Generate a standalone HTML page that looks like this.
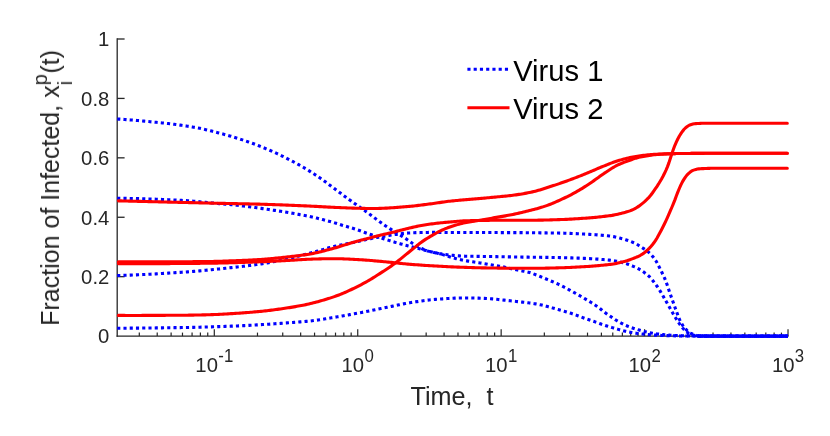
<!DOCTYPE html>
<html>
<head>
<meta charset="utf-8">
<title>Fraction of Infected vs Time</title>
<style>
html, body { margin: 0; padding: 0; background: #ffffff; }
body { width: 830px; height: 436px; overflow: hidden; font-family: "Liberation Sans", sans-serif; }
svg { display: block; }
</style>
</head>
<body>
<svg width="830" height="436" viewBox="0 0 830 436">
<rect width="830" height="436" fill="#fff"/>
<g stroke="#262626" stroke-width="1.3" fill="none" stroke-linecap="butt">
<path d="M117.2 38.35 V336.75"/>
<path d="M116.55 336.1 H788.65"/>
<path d="M117.2 276.68 h7.4"/>
<path d="M117.2 217.26 h7.4"/>
<path d="M117.2 157.84 h7.4"/>
<path d="M117.2 98.42 h7.4"/>
<path d="M117.2 39.00 h7.4"/>
</g>
<g stroke="#262626" stroke-width="1.2" fill="none">
<path d="M139.30 336.1 v-3.5"/>
<path d="M157.22 336.1 v-3.5"/>
<path d="M171.12 336.1 v-3.5"/>
<path d="M182.48 336.1 v-3.5"/>
<path d="M192.08 336.1 v-3.5"/>
<path d="M200.40 336.1 v-3.5"/>
<path d="M207.74 336.1 v-3.5"/>
<path d="M214.30 336.1 v-6.9"/>
<path d="M257.48 336.1 v-3.5"/>
<path d="M282.73 336.1 v-3.5"/>
<path d="M300.65 336.1 v-3.5"/>
<path d="M314.55 336.1 v-3.5"/>
<path d="M325.91 336.1 v-3.5"/>
<path d="M335.51 336.1 v-3.5"/>
<path d="M343.83 336.1 v-3.5"/>
<path d="M351.17 336.1 v-3.5"/>
<path d="M357.73 336.1 v-6.9"/>
<path d="M400.91 336.1 v-3.5"/>
<path d="M426.16 336.1 v-3.5"/>
<path d="M444.08 336.1 v-3.5"/>
<path d="M457.98 336.1 v-3.5"/>
<path d="M469.34 336.1 v-3.5"/>
<path d="M478.94 336.1 v-3.5"/>
<path d="M487.26 336.1 v-3.5"/>
<path d="M494.60 336.1 v-3.5"/>
<path d="M501.16 336.1 v-6.9"/>
<path d="M544.34 336.1 v-3.5"/>
<path d="M569.59 336.1 v-3.5"/>
<path d="M587.51 336.1 v-3.5"/>
<path d="M601.41 336.1 v-3.5"/>
<path d="M612.77 336.1 v-3.5"/>
<path d="M622.37 336.1 v-3.5"/>
<path d="M630.69 336.1 v-3.5"/>
<path d="M638.03 336.1 v-3.5"/>
<path d="M644.59 336.1 v-6.9"/>
<path d="M687.77 336.1 v-3.5"/>
<path d="M713.02 336.1 v-3.5"/>
<path d="M730.94 336.1 v-3.5"/>
<path d="M744.84 336.1 v-3.5"/>
<path d="M756.20 336.1 v-3.5"/>
<path d="M765.80 336.1 v-3.5"/>
<path d="M774.12 336.1 v-3.5"/>
<path d="M781.46 336.1 v-3.5"/>
<path d="M788.02 336.1 v-6.9"/>
</g>
<g font-family="Liberation Sans, sans-serif" font-size="20.3" fill="#262626" style="filter:grayscale(1)">
<text transform="translate(109.3 343.45) scale(1 1.04)" text-anchor="end">0</text>
<text transform="translate(109.3 284.03) scale(1 1.04)" text-anchor="end">0.2</text>
<text transform="translate(109.3 224.61) scale(1 1.04)" text-anchor="end">0.4</text>
<text transform="translate(109.3 165.19) scale(1 1.04)" text-anchor="end">0.6</text>
<text transform="translate(109.3 105.77) scale(1 1.04)" text-anchor="end">0.8</text>
<text transform="translate(109.3 46.35) scale(1 1.04)" text-anchor="end">1</text>
<text transform="translate(214.30 371.7) scale(1 1.04)" text-anchor="middle">10<tspan font-size="16.8" dy="-9.6" dx="0.4">-1</tspan></text>
<text transform="translate(357.73 371.7) scale(1 1.04)" text-anchor="middle">10<tspan font-size="16.8" dy="-9.6" dx="0.4">0</tspan></text>
<text transform="translate(501.16 371.7) scale(1 1.04)" text-anchor="middle">10<tspan font-size="16.8" dy="-9.6" dx="0.4">1</tspan></text>
<text transform="translate(644.59 371.7) scale(1 1.04)" text-anchor="middle">10<tspan font-size="16.8" dy="-9.6" dx="0.4">2</tspan></text>
<text transform="translate(788.02 371.7) scale(1 1.04)" text-anchor="middle">10<tspan font-size="16.8" dy="-9.6" dx="0.4">3</tspan></text>
</g>
<g font-family="Liberation Sans, sans-serif" font-size="25" fill="#262626" style="filter:grayscale(1)">
<text x="452.1" y="404.5" text-anchor="middle" font-size="25.2" xml:space="preserve">Time,  t</text>
<text transform="translate(59.0 325.8) rotate(-90)" xml:space="preserve">Fraction of Infected, x<tspan font-size="20" dy="-12.4" dx="0">p</tspan><tspan font-size="20" dy="25.3" dx="-11.1">i</tspan><tspan dy="-12.9" dx="7.4">(t)</tspan></text>
</g>
<g fill="none" stroke-width="3.1" stroke-linejoin="round">
<path d="M117.20 119.00 L118.70 119.08 L120.20 119.17 L121.70 119.27 L123.20 119.37 L124.70 119.47 L126.20 119.58 L127.70 119.69 L129.20 119.81 L130.70 119.93 L132.20 120.05 L133.70 120.18 L135.20 120.31 L136.70 120.44 L138.20 120.58 L139.70 120.71 L141.20 120.85 L142.70 120.99 L144.20 121.14 L145.70 121.28 L147.20 121.43 L148.70 121.58 L150.20 121.72 L151.70 121.87 L153.20 122.02 L154.70 122.17 L156.20 122.32 L157.70 122.47 L159.20 122.62 L160.70 122.77 L162.20 122.92 L163.70 123.08 L165.20 123.24 L166.70 123.41 L168.20 123.58 L169.70 123.76 L171.20 123.94 L172.70 124.12 L174.20 124.31 L175.70 124.50 L177.20 124.70 L178.70 124.90 L180.20 125.11 L181.70 125.32 L183.20 125.54 L184.70 125.76 L186.20 125.98 L187.70 126.21 L189.20 126.44 L190.70 126.68 L192.20 126.92 L193.70 127.17 L195.20 127.43 L196.70 127.71 L198.20 128.00 L199.70 128.30 L201.20 128.62 L202.70 128.95 L204.20 129.29 L205.70 129.64 L207.20 129.99 L208.70 130.36 L210.20 130.73 L211.70 131.11 L213.20 131.49 L214.70 131.88 L216.20 132.27 L217.70 132.66 L219.20 133.05 L220.70 133.45 L222.20 133.84 L223.70 134.24 L225.20 134.64 L226.70 135.06 L228.20 135.48 L229.70 135.91 L231.20 136.35 L232.70 136.80 L234.20 137.26 L235.70 137.72 L237.20 138.19 L238.70 138.67 L240.20 139.16 L241.70 139.65 L243.20 140.14 L244.70 140.65 L246.20 141.15 L247.70 141.67 L249.20 142.19 L250.70 142.72 L252.20 143.26 L253.70 143.81 L255.20 144.38 L256.70 144.96 L258.20 145.54 L259.70 146.14 L261.20 146.74 L262.70 147.35 L264.20 147.97 L265.70 148.60 L267.20 149.23 L268.70 149.87 L270.20 150.52 L271.70 151.17 L273.20 151.83 L274.70 152.50 L276.20 153.18 L277.70 153.88 L279.20 154.59 L280.70 155.31 L282.20 156.04 L283.70 156.78 L285.20 157.54 L286.70 158.30 L288.20 159.07 L289.70 159.85 L291.20 160.64 L292.70 161.43 L294.20 162.24 L295.70 163.05 L297.20 163.86 L298.70 164.69 L300.20 165.52 L301.70 166.38 L303.20 167.25 L304.70 168.14 L306.20 169.04 L307.70 169.96 L309.20 170.89 L310.70 171.84 L312.20 172.79 L313.70 173.76 L315.20 174.74 L316.70 175.73 L318.20 176.74 L319.70 177.77 L321.20 178.83 L322.70 179.90 L324.20 180.98 L325.70 182.08 L327.20 183.19 L328.70 184.31 L330.20 185.43 L331.70 186.55 L333.20 187.66 L334.70 188.78 L336.20 189.89 L337.70 191.02 L339.20 192.16 L340.70 193.30 L342.20 194.43 L343.70 195.55 L345.20 196.66 L346.70 197.76 L348.20 198.85 L349.70 199.94 L351.20 201.02 L352.70 202.10 L354.20 203.18 L355.70 204.26 L357.20 205.32 L358.70 206.38 L360.20 207.44 L361.70 208.49 L363.20 209.54 L364.70 210.60 L366.20 211.67 L367.70 212.75 L369.20 213.85 L370.70 214.97 L372.20 216.11 L373.70 217.25 L375.20 218.39 L376.70 219.52 L378.20 220.63 L379.70 221.73 L381.20 222.79 L382.70 223.84 L384.20 224.88 L385.70 225.91 L387.20 226.92 L388.70 227.92 L390.20 228.91 L391.70 229.89 L393.20 230.86 L394.70 231.82 L396.20 232.75 L397.70 233.67 L399.20 234.58 L400.70 235.49 L402.20 236.40 L403.70 237.33 L405.20 238.28 L406.70 239.26 L408.20 240.30 L409.70 241.36 L411.20 242.42 L412.70 243.45 L414.20 244.41 L415.70 245.28 L417.20 246.13 L418.70 246.95 L420.20 247.75 L421.70 248.52 L423.20 249.23 L424.70 249.88 L426.20 250.45 L427.70 250.94 L429.20 251.37 L430.70 251.77 L432.20 252.15 L433.70 252.51 L435.20 252.84 L436.70 253.15 L438.20 253.43 L439.70 253.68 L441.20 253.90 L442.70 254.12 L444.20 254.34 L445.70 254.56 L447.20 254.76 L448.70 254.95 L450.20 255.12 L451.70 255.28 L453.20 255.41 L454.70 255.53 L456.20 255.65 L457.70 255.77 L459.20 255.88 L460.70 255.98 L462.20 256.07 L463.70 256.14 L465.20 256.19 L466.70 256.22 L468.20 256.25 L469.70 256.27 L471.20 256.30 L472.70 256.32 L474.20 256.34 L475.70 256.36 L477.20 256.38 L478.70 256.39 L480.20 256.41 L481.70 256.43 L483.20 256.45 L484.70 256.46 L486.20 256.48 L487.70 256.50 L489.20 256.52 L490.70 256.55 L492.20 256.57 L493.70 256.59 L495.20 256.62 L496.70 256.65 L498.20 256.68 L499.70 256.71 L501.20 256.74 L502.70 256.77 L504.20 256.79 L505.70 256.82 L507.20 256.85 L508.70 256.88 L510.20 256.90 L511.70 256.93 L513.20 256.95 L514.70 256.98 L516.20 257.00 L517.70 257.02 L519.20 257.04 L520.70 257.06 L522.20 257.08 L523.70 257.11 L525.20 257.12 L526.70 257.14 L528.20 257.16 L529.70 257.18 L531.20 257.20 L532.70 257.22 L534.20 257.24 L535.70 257.26 L537.20 257.28 L538.70 257.29 L540.20 257.31 L541.70 257.33 L543.20 257.35 L544.70 257.37 L546.20 257.39 L547.70 257.41 L549.20 257.43 L550.70 257.45 L552.20 257.47 L553.70 257.50 L555.20 257.52 L556.70 257.54 L558.20 257.57 L559.70 257.59 L561.20 257.62 L562.70 257.65 L564.20 257.69 L565.70 257.72 L567.20 257.77 L568.70 257.81 L570.20 257.86 L571.70 257.91 L573.20 257.96 L574.70 258.01 L576.20 258.06 L577.70 258.12 L579.20 258.17 L580.70 258.23 L582.20 258.29 L583.70 258.34 L585.20 258.40 L586.70 258.46 L588.20 258.53 L589.70 258.60 L591.20 258.69 L592.70 258.78 L594.20 258.87 L595.70 258.97 L597.20 259.08 L598.70 259.19 L600.20 259.31 L601.70 259.43 L603.20 259.56 L604.70 259.69 L606.20 259.82 L607.70 259.96 L609.20 260.10 L610.70 260.24 L612.20 260.43 L613.70 260.66 L615.20 260.94 L616.70 261.25 L618.20 261.59 L619.70 261.95 L621.20 262.31 L622.70 262.68 L624.20 263.06 L625.70 263.51 L627.20 264.00 L628.70 264.53 L630.20 265.10 L631.70 265.69 L633.20 266.31 L634.70 266.94 L636.20 267.60 L637.70 268.34 L639.20 269.16 L640.70 270.06 L642.20 271.04 L643.70 272.07 L645.20 273.17 L646.70 274.32 L648.20 275.53 L649.70 276.98 L651.20 278.66 L652.70 280.50 L654.20 282.44 L655.70 284.39 L657.20 286.48 L658.70 288.72 L660.20 291.08 L661.70 293.56 L663.20 296.19 L664.70 298.87 L666.20 301.50 L667.70 304.15 L669.20 306.79 L670.70 309.43 L672.20 312.09 L673.70 314.74 L675.20 317.27 L676.70 319.68 L678.20 322.00 L679.70 324.16 L681.20 326.15 L682.70 328.06 L684.20 329.78 L685.70 331.15 L687.20 332.34 L688.70 333.36 L690.20 334.10 L691.70 334.57 L693.20 335.03 L694.70 335.43 L696.20 335.73 L697.70 335.89 L699.20 335.93 L700.70 335.96 L702.20 336.00 L703.70 336.03 L705.20 336.05 L706.70 336.08 L708.20 336.09 L709.70 336.10 L711.20 336.10 L712.70 336.10 L714.20 336.11 L715.70 336.11 L717.20 336.11 L718.70 336.11 L720.20 336.12 L721.70 336.12 L723.20 336.12 L724.70 336.13 L726.20 336.13 L727.70 336.13 L729.20 336.14 L730.70 336.14 L732.20 336.14 L733.70 336.14 L735.20 336.15 L736.70 336.15 L738.20 336.15 L739.70 336.16 L741.20 336.16 L742.70 336.16 L744.20 336.17 L745.70 336.17 L747.20 336.17 L748.70 336.17 L750.20 336.17 L751.70 336.18 L753.20 336.18 L754.70 336.18 L756.20 336.18 L757.70 336.18 L759.20 336.18 L760.70 336.18 L762.20 336.18 L763.70 336.18 L765.20 336.18 L766.70 336.18 L768.20 336.17 L769.70 336.17 L771.20 336.17 L772.70 336.16 L774.20 336.16 L775.70 336.16 L777.20 336.15 L778.70 336.15 L780.20 336.14 L781.70 336.13 L783.20 336.13 L784.70 336.12 L786.20 336.11 L787.70 336.10 L787.90 336.10" stroke="#0000ff" stroke-dasharray="3.125 3.125"/>
<path d="M117.20 198.30 L118.70 198.31 L120.20 198.32 L121.70 198.33 L123.20 198.35 L124.70 198.37 L126.20 198.38 L127.70 198.41 L129.20 198.43 L130.70 198.46 L132.20 198.49 L133.70 198.52 L135.20 198.55 L136.70 198.58 L138.20 198.62 L139.70 198.66 L141.20 198.70 L142.70 198.74 L144.20 198.79 L145.70 198.83 L147.20 198.88 L148.70 198.93 L150.20 198.98 L151.70 199.03 L153.20 199.09 L154.70 199.15 L156.20 199.20 L157.70 199.26 L159.20 199.32 L160.70 199.39 L162.20 199.45 L163.70 199.52 L165.20 199.58 L166.70 199.65 L168.20 199.72 L169.70 199.79 L171.20 199.87 L172.70 199.94 L174.20 200.02 L175.70 200.09 L177.20 200.17 L178.70 200.25 L180.20 200.33 L181.70 200.41 L183.20 200.49 L184.70 200.57 L186.20 200.66 L187.70 200.75 L189.20 200.86 L190.70 200.98 L192.20 201.10 L193.70 201.23 L195.20 201.37 L196.70 201.51 L198.20 201.65 L199.70 201.80 L201.20 201.95 L202.70 202.10 L204.20 202.25 L205.70 202.40 L207.20 202.54 L208.70 202.68 L210.20 202.82 L211.70 202.95 L213.20 203.08 L214.70 203.21 L216.20 203.34 L217.70 203.47 L219.20 203.60 L220.70 203.73 L222.20 203.87 L223.70 204.00 L225.20 204.13 L226.70 204.27 L228.20 204.40 L229.70 204.55 L231.20 204.69 L232.70 204.84 L234.20 204.99 L235.70 205.14 L237.20 205.30 L238.70 205.47 L240.20 205.64 L241.70 205.82 L243.20 206.00 L244.70 206.19 L246.20 206.38 L247.70 206.57 L249.20 206.77 L250.70 206.97 L252.20 207.17 L253.70 207.38 L255.20 207.58 L256.70 207.79 L258.20 208.00 L259.70 208.20 L261.20 208.41 L262.70 208.62 L264.20 208.83 L265.70 209.05 L267.20 209.27 L268.70 209.49 L270.20 209.71 L271.70 209.94 L273.20 210.17 L274.70 210.40 L276.20 210.63 L277.70 210.86 L279.20 211.10 L280.70 211.34 L282.20 211.58 L283.70 211.82 L285.20 212.07 L286.70 212.31 L288.20 212.56 L289.70 212.82 L291.20 213.07 L292.70 213.33 L294.20 213.59 L295.70 213.86 L297.20 214.13 L298.70 214.40 L300.20 214.68 L301.70 214.96 L303.20 215.25 L304.70 215.54 L306.20 215.83 L307.70 216.13 L309.20 216.44 L310.70 216.75 L312.20 217.07 L313.70 217.40 L315.20 217.74 L316.70 218.09 L318.20 218.44 L319.70 218.81 L321.20 219.19 L322.70 219.57 L324.20 219.95 L325.70 220.35 L327.20 220.74 L328.70 221.15 L330.20 221.55 L331.70 221.98 L333.20 222.41 L334.70 222.86 L336.20 223.32 L337.70 223.79 L339.20 224.25 L340.70 224.72 L342.20 225.18 L343.70 225.63 L345.20 226.07 L346.70 226.52 L348.20 226.96 L349.70 227.40 L351.20 227.85 L352.70 228.31 L354.20 228.78 L355.70 229.26 L357.20 229.77 L358.70 230.29 L360.20 230.83 L361.70 231.38 L363.20 231.92 L364.70 232.47 L366.20 233.01 L367.70 233.53 L369.20 234.05 L370.70 234.56 L372.20 235.06 L373.70 235.57 L375.20 236.07 L376.70 236.56 L378.20 237.06 L379.70 237.54 L381.20 238.02 L382.70 238.50 L384.20 238.98 L385.70 239.45 L387.20 239.91 L388.70 240.37 L390.20 240.83 L391.70 241.28 L393.20 241.73 L394.70 242.17 L396.20 242.62 L397.70 243.05 L399.20 243.49 L400.70 243.92 L402.20 244.34 L403.70 244.76 L405.20 245.17 L406.70 245.56 L408.20 245.95 L409.70 246.33 L411.20 246.70 L412.70 247.07 L414.20 247.45 L415.70 247.83 L417.20 248.22 L418.70 248.61 L420.20 249.00 L421.70 249.40 L423.20 249.79 L424.70 250.18 L426.20 250.57 L427.70 250.95 L429.20 251.32 L430.70 251.67 L432.20 252.02 L433.70 252.36 L435.20 252.70 L436.70 253.05 L438.20 253.41 L439.70 253.79 L441.20 254.19 L442.70 254.64 L444.20 255.11 L445.70 255.60 L447.20 256.09 L448.70 256.59 L450.20 257.06 L451.70 257.51 L453.20 257.93 L454.70 258.31 L456.20 258.69 L457.70 259.06 L459.20 259.41 L460.70 259.75 L462.20 260.07 L463.70 260.37 L465.20 260.65 L466.70 260.90 L468.20 261.14 L469.70 261.37 L471.20 261.58 L472.70 261.79 L474.20 262.00 L475.70 262.22 L477.20 262.44 L478.70 262.68 L480.20 262.93 L481.70 263.18 L483.20 263.44 L484.70 263.69 L486.20 263.95 L487.70 264.22 L489.20 264.48 L490.70 264.73 L492.20 264.99 L493.70 265.24 L495.20 265.49 L496.70 265.75 L498.20 266.00 L499.70 266.27 L501.20 266.54 L502.70 266.82 L504.20 267.12 L505.70 267.44 L507.20 267.77 L508.70 268.11 L510.20 268.46 L511.70 268.81 L513.20 269.15 L514.70 269.48 L516.20 269.80 L517.70 270.10 L519.20 270.38 L520.70 270.65 L522.20 270.92 L523.70 271.20 L525.20 271.49 L526.70 271.80 L528.20 272.15 L529.70 272.56 L531.20 273.05 L532.70 273.59 L534.20 274.16 L535.70 274.73 L537.20 275.30 L538.70 275.90 L540.20 276.50 L541.70 277.12 L543.20 277.74 L544.70 278.38 L546.20 279.01 L547.70 279.64 L549.20 280.28 L550.70 280.91 L552.20 281.55 L553.70 282.20 L555.20 282.86 L556.70 283.53 L558.20 284.21 L559.70 284.91 L561.20 285.63 L562.70 286.37 L564.20 287.14 L565.70 287.92 L567.20 288.71 L568.70 289.52 L570.20 290.33 L571.70 291.15 L573.20 291.97 L574.70 292.81 L576.20 293.65 L577.70 294.50 L579.20 295.36 L580.70 296.24 L582.20 297.12 L583.70 298.00 L585.20 298.90 L586.70 299.80 L588.20 300.70 L589.70 301.61 L591.20 302.53 L592.70 303.48 L594.20 304.44 L595.70 305.43 L597.20 306.45 L598.70 307.53 L600.20 308.70 L601.70 309.93 L603.20 311.16 L604.70 312.33 L606.20 313.43 L607.70 314.50 L609.20 315.54 L610.70 316.58 L612.20 317.61 L613.70 318.63 L615.20 319.60 L616.70 320.50 L618.20 321.39 L619.70 322.26 L621.20 323.11 L622.70 323.91 L624.20 324.67 L625.70 325.36 L627.20 325.98 L628.70 326.57 L630.20 327.13 L631.70 327.67 L633.20 328.18 L634.70 328.68 L636.20 329.16 L637.70 329.62 L639.20 330.08 L640.70 330.55 L642.20 330.99 L643.70 331.39 L645.20 331.73 L646.70 332.05 L648.20 332.37 L649.70 332.67 L651.20 332.96 L652.70 333.23 L654.20 333.49 L655.70 333.72 L657.20 333.92 L658.70 334.11 L660.20 334.29 L661.70 334.46 L663.20 334.63 L664.70 334.78 L666.20 334.93 L667.70 335.05 L669.20 335.16 L670.70 335.25 L672.20 335.33 L673.70 335.41 L675.20 335.49 L676.70 335.57 L678.20 335.64 L679.70 335.70 L681.20 335.75 L682.70 335.79 L684.20 335.83 L685.70 335.86 L687.20 335.90 L688.70 335.93 L690.20 335.96 L691.70 335.99 L693.20 336.02 L694.70 336.04 L696.20 336.06 L697.70 336.08 L699.20 336.09 L700.70 336.10 L702.20 336.11 L703.70 336.12 L705.20 336.13 L706.70 336.13 L708.20 336.14 L709.70 336.15 L711.20 336.15 L712.70 336.16 L714.20 336.17 L715.70 336.17 L717.20 336.18 L718.70 336.18 L720.20 336.19 L721.70 336.19 L723.20 336.20 L724.70 336.20 L726.20 336.21 L727.70 336.21 L729.20 336.21 L730.70 336.22 L732.20 336.22 L733.70 336.22 L735.20 336.22 L736.70 336.23 L738.20 336.23 L739.70 336.23 L741.20 336.23 L742.70 336.23 L744.20 336.23 L745.70 336.23 L747.20 336.23 L748.70 336.23 L750.20 336.23 L751.70 336.23 L753.20 336.23 L754.70 336.23 L756.20 336.23 L757.70 336.22 L759.20 336.22 L760.70 336.22 L762.20 336.21 L763.70 336.21 L765.20 336.21 L766.70 336.20 L768.20 336.20 L769.70 336.19 L771.20 336.19 L772.70 336.18 L774.20 336.17 L775.70 336.17 L777.20 336.16 L778.70 336.15 L780.20 336.15 L781.70 336.14 L783.20 336.13 L784.70 336.12 L786.20 336.11 L787.70 336.10 L787.90 336.10" stroke="#0000ff" stroke-dasharray="3.125 3.125"/>
<path d="M117.20 275.50 L118.70 275.47 L120.20 275.43 L121.70 275.39 L123.20 275.35 L124.70 275.30 L126.20 275.25 L127.70 275.20 L129.20 275.15 L130.70 275.09 L132.20 275.04 L133.70 274.98 L135.20 274.91 L136.70 274.85 L138.20 274.78 L139.70 274.71 L141.20 274.64 L142.70 274.57 L144.20 274.50 L145.70 274.42 L147.20 274.34 L148.70 274.26 L150.20 274.18 L151.70 274.10 L153.20 274.02 L154.70 273.93 L156.20 273.85 L157.70 273.76 L159.20 273.67 L160.70 273.58 L162.20 273.49 L163.70 273.40 L165.20 273.30 L166.70 273.21 L168.20 273.11 L169.70 273.02 L171.20 272.92 L172.70 272.82 L174.20 272.73 L175.70 272.63 L177.20 272.53 L178.70 272.43 L180.20 272.33 L181.70 272.23 L183.20 272.13 L184.70 272.03 L186.20 271.93 L187.70 271.83 L189.20 271.72 L190.70 271.61 L192.20 271.49 L193.70 271.37 L195.20 271.25 L196.70 271.12 L198.20 270.99 L199.70 270.86 L201.20 270.72 L202.70 270.58 L204.20 270.44 L205.70 270.30 L207.20 270.15 L208.70 270.01 L210.20 269.86 L211.70 269.71 L213.20 269.55 L214.70 269.40 L216.20 269.24 L217.70 269.08 L219.20 268.93 L220.70 268.77 L222.20 268.61 L223.70 268.45 L225.20 268.29 L226.70 268.12 L228.20 267.96 L229.70 267.80 L231.20 267.64 L232.70 267.48 L234.20 267.32 L235.70 267.16 L237.20 266.99 L238.70 266.83 L240.20 266.66 L241.70 266.48 L243.20 266.31 L244.70 266.13 L246.20 265.94 L247.70 265.75 L249.20 265.56 L250.70 265.36 L252.20 265.16 L253.70 264.96 L255.20 264.75 L256.70 264.54 L258.20 264.32 L259.70 264.10 L261.20 263.88 L262.70 263.64 L264.20 263.40 L265.70 263.15 L267.20 262.88 L268.70 262.61 L270.20 262.33 L271.70 262.05 L273.20 261.75 L274.70 261.45 L276.20 261.15 L277.70 260.84 L279.20 260.53 L280.70 260.21 L282.20 259.89 L283.70 259.57 L285.20 259.24 L286.70 258.92 L288.20 258.58 L289.70 258.24 L291.20 257.89 L292.70 257.54 L294.20 257.18 L295.70 256.82 L297.20 256.45 L298.70 256.08 L300.20 255.70 L301.70 255.32 L303.20 254.93 L304.70 254.54 L306.20 254.15 L307.70 253.76 L309.20 253.36 L310.70 252.96 L312.20 252.56 L313.70 252.16 L315.20 251.76 L316.70 251.35 L318.20 250.95 L319.70 250.52 L321.20 250.08 L322.70 249.62 L324.20 249.16 L325.70 248.70 L327.20 248.26 L328.70 247.84 L330.20 247.45 L331.70 247.08 L333.20 246.73 L334.70 246.38 L336.20 246.04 L337.70 245.71 L339.20 245.38 L340.70 245.06 L342.20 244.74 L343.70 244.43 L345.20 244.11 L346.70 243.80 L348.20 243.49 L349.70 243.18 L351.20 242.86 L352.70 242.54 L354.20 242.22 L355.70 241.89 L357.20 241.56 L358.70 241.22 L360.20 240.89 L361.70 240.55 L363.20 240.22 L364.70 239.89 L366.20 239.56 L367.70 239.24 L369.20 238.93 L370.70 238.61 L372.20 238.30 L373.70 237.99 L375.20 237.69 L376.70 237.39 L378.20 237.11 L379.70 236.84 L381.20 236.58 L382.70 236.33 L384.20 236.10 L385.70 235.86 L387.20 235.64 L388.70 235.42 L390.20 235.20 L391.70 234.99 L393.20 234.79 L394.70 234.57 L396.20 234.36 L397.70 234.14 L399.20 233.92 L400.70 233.72 L402.20 233.53 L403.70 233.37 L405.20 233.24 L406.70 233.13 L408.20 233.03 L409.70 232.94 L411.20 232.86 L412.70 232.78 L414.20 232.72 L415.70 232.67 L417.20 232.62 L418.70 232.59 L420.20 232.57 L421.70 232.54 L423.20 232.51 L424.70 232.48 L426.20 232.46 L427.70 232.44 L429.20 232.42 L430.70 232.40 L432.20 232.40 L433.70 232.40 L435.20 232.41 L436.70 232.42 L438.20 232.43 L439.70 232.44 L441.20 232.45 L442.70 232.47 L444.20 232.48 L445.70 232.49 L447.20 232.50 L448.70 232.50 L450.20 232.51 L451.70 232.51 L453.20 232.52 L454.70 232.52 L456.20 232.53 L457.70 232.53 L459.20 232.53 L460.70 232.54 L462.20 232.54 L463.70 232.54 L465.20 232.54 L466.70 232.54 L468.20 232.55 L469.70 232.55 L471.20 232.55 L472.70 232.55 L474.20 232.55 L475.70 232.55 L477.20 232.56 L478.70 232.56 L480.20 232.56 L481.70 232.56 L483.20 232.56 L484.70 232.56 L486.20 232.56 L487.70 232.56 L489.20 232.56 L490.70 232.57 L492.20 232.57 L493.70 232.57 L495.20 232.57 L496.70 232.57 L498.20 232.57 L499.70 232.58 L501.20 232.58 L502.70 232.58 L504.20 232.59 L505.70 232.59 L507.20 232.59 L508.70 232.60 L510.20 232.60 L511.70 232.61 L513.20 232.61 L514.70 232.62 L516.20 232.63 L517.70 232.63 L519.20 232.64 L520.70 232.65 L522.20 232.66 L523.70 232.68 L525.20 232.69 L526.70 232.70 L528.20 232.71 L529.70 232.73 L531.20 232.74 L532.70 232.76 L534.20 232.77 L535.70 232.79 L537.20 232.81 L538.70 232.82 L540.20 232.84 L541.70 232.86 L543.20 232.88 L544.70 232.90 L546.20 232.91 L547.70 232.93 L549.20 232.95 L550.70 232.97 L552.20 232.99 L553.70 233.01 L555.20 233.03 L556.70 233.05 L558.20 233.07 L559.70 233.09 L561.20 233.12 L562.70 233.15 L564.20 233.18 L565.70 233.23 L567.20 233.28 L568.70 233.33 L570.20 233.39 L571.70 233.46 L573.20 233.52 L574.70 233.59 L576.20 233.66 L577.70 233.74 L579.20 233.81 L580.70 233.88 L582.20 233.96 L583.70 234.03 L585.20 234.10 L586.70 234.17 L588.20 234.25 L589.70 234.34 L591.20 234.43 L592.70 234.53 L594.20 234.63 L595.70 234.75 L597.20 234.86 L598.70 234.99 L600.20 235.11 L601.70 235.25 L603.20 235.38 L604.70 235.53 L606.20 235.67 L607.70 235.83 L609.20 235.98 L610.70 236.15 L612.20 236.36 L613.70 236.63 L615.20 236.95 L616.70 237.31 L618.20 237.69 L619.70 238.09 L621.20 238.50 L622.70 238.90 L624.20 239.31 L625.70 239.75 L627.20 240.23 L628.70 240.74 L630.20 241.29 L631.70 241.87 L633.20 242.48 L634.70 243.13 L636.20 243.85 L637.70 244.72 L639.20 245.70 L640.70 246.71 L642.20 247.68 L643.70 248.65 L645.20 249.64 L646.70 250.69 L648.20 251.84 L649.70 253.17 L651.20 254.70 L652.70 256.43 L654.20 258.32 L655.70 260.43 L657.20 263.04 L658.70 265.98 L660.20 269.00 L661.70 271.98 L663.20 275.08 L664.70 278.42 L666.20 282.17 L667.70 286.47 L669.20 290.98 L670.70 295.35 L672.20 299.61 L673.70 303.83 L675.20 307.96 L676.70 312.10 L678.20 316.24 L679.70 319.95 L681.20 322.89 L682.70 325.41 L684.20 327.53 L685.70 329.21 L687.20 330.71 L688.70 332.06 L690.20 333.06 L691.70 333.74 L693.20 334.40 L694.70 334.99 L696.20 335.44 L697.70 335.68 L699.20 335.75 L700.70 335.82 L702.20 335.89 L703.70 335.94 L705.20 336.00 L706.70 336.04 L708.20 336.08 L709.70 336.10 L711.20 336.10 L712.70 336.11 L714.20 336.11 L715.70 336.12 L717.20 336.12 L718.70 336.13 L720.20 336.13 L721.70 336.14 L723.20 336.15 L724.70 336.15 L726.20 336.16 L727.70 336.17 L729.20 336.17 L730.70 336.18 L732.20 336.18 L733.70 336.19 L735.20 336.20 L736.70 336.20 L738.20 336.21 L739.70 336.22 L741.20 336.22 L742.70 336.23 L744.20 336.23 L745.70 336.23 L747.20 336.24 L748.70 336.24 L750.20 336.25 L751.70 336.25 L753.20 336.25 L754.70 336.25 L756.20 336.25 L757.70 336.26 L759.20 336.26 L760.70 336.26 L762.20 336.25 L763.70 336.25 L765.20 336.25 L766.70 336.25 L768.20 336.24 L769.70 336.24 L771.20 336.23 L772.70 336.23 L774.20 336.22 L775.70 336.21 L777.20 336.20 L778.70 336.19 L780.20 336.18 L781.70 336.17 L783.20 336.15 L784.70 336.14 L786.20 336.12 L787.70 336.10 L787.90 336.10" stroke="#0000ff" stroke-dasharray="3.125 3.125"/>
<path d="M117.20 328.20 L118.70 328.20 L120.20 328.20 L121.70 328.19 L123.20 328.19 L124.70 328.19 L126.20 328.18 L127.70 328.17 L129.20 328.17 L130.70 328.16 L132.20 328.15 L133.70 328.14 L135.20 328.13 L136.70 328.12 L138.20 328.10 L139.70 328.09 L141.20 328.08 L142.70 328.07 L144.20 328.05 L145.70 328.04 L147.20 328.02 L148.70 328.00 L150.20 327.99 L151.70 327.97 L153.20 327.95 L154.70 327.93 L156.20 327.91 L157.70 327.90 L159.20 327.88 L160.70 327.86 L162.20 327.84 L163.70 327.82 L165.20 327.79 L166.70 327.77 L168.20 327.75 L169.70 327.73 L171.20 327.71 L172.70 327.69 L174.20 327.66 L175.70 327.64 L177.20 327.62 L178.70 327.60 L180.20 327.58 L181.70 327.55 L183.20 327.53 L184.70 327.51 L186.20 327.48 L187.70 327.46 L189.20 327.43 L190.70 327.40 L192.20 327.37 L193.70 327.34 L195.20 327.31 L196.70 327.27 L198.20 327.24 L199.70 327.20 L201.20 327.16 L202.70 327.12 L204.20 327.07 L205.70 327.03 L207.20 326.98 L208.70 326.94 L210.20 326.89 L211.70 326.84 L213.20 326.79 L214.70 326.74 L216.20 326.69 L217.70 326.64 L219.20 326.59 L220.70 326.54 L222.20 326.48 L223.70 326.43 L225.20 326.37 L226.70 326.32 L228.20 326.26 L229.70 326.21 L231.20 326.15 L232.70 326.10 L234.20 326.04 L235.70 325.98 L237.20 325.93 L238.70 325.86 L240.20 325.80 L241.70 325.73 L243.20 325.66 L244.70 325.58 L246.20 325.50 L247.70 325.42 L249.20 325.34 L250.70 325.26 L252.20 325.18 L253.70 325.09 L255.20 325.00 L256.70 324.92 L258.20 324.83 L259.70 324.74 L261.20 324.65 L262.70 324.56 L264.20 324.47 L265.70 324.37 L267.20 324.28 L268.70 324.18 L270.20 324.08 L271.70 323.97 L273.20 323.87 L274.70 323.77 L276.20 323.66 L277.70 323.55 L279.20 323.45 L280.70 323.34 L282.20 323.23 L283.70 323.12 L285.20 323.01 L286.70 322.91 L288.20 322.80 L289.70 322.69 L291.20 322.58 L292.70 322.47 L294.20 322.36 L295.70 322.25 L297.20 322.14 L298.70 322.02 L300.20 321.90 L301.70 321.77 L303.20 321.64 L304.70 321.51 L306.20 321.37 L307.70 321.23 L309.20 321.08 L310.70 320.93 L312.20 320.76 L313.70 320.57 L315.20 320.38 L316.70 320.17 L318.20 319.96 L319.70 319.73 L321.20 319.50 L322.70 319.26 L324.20 319.02 L325.70 318.77 L327.20 318.51 L328.70 318.26 L330.20 318.01 L331.70 317.75 L333.20 317.50 L334.70 317.25 L336.20 317.00 L337.70 316.75 L339.20 316.49 L340.70 316.24 L342.20 315.98 L343.70 315.71 L345.20 315.45 L346.70 315.18 L348.20 314.91 L349.70 314.64 L351.20 314.36 L352.70 314.08 L354.20 313.81 L355.70 313.53 L357.20 313.25 L358.70 312.96 L360.20 312.68 L361.70 312.40 L363.20 312.11 L364.70 311.81 L366.20 311.52 L367.70 311.22 L369.20 310.92 L370.70 310.62 L372.20 310.32 L373.70 310.02 L375.20 309.72 L376.70 309.41 L378.20 309.11 L379.70 308.81 L381.20 308.50 L382.70 308.20 L384.20 307.90 L385.70 307.60 L387.20 307.30 L388.70 306.99 L390.20 306.68 L391.70 306.36 L393.20 306.04 L394.70 305.73 L396.20 305.41 L397.70 305.10 L399.20 304.79 L400.70 304.48 L402.20 304.18 L403.70 303.88 L405.20 303.60 L406.70 303.32 L408.20 303.05 L409.70 302.80 L411.20 302.55 L412.70 302.31 L414.20 302.07 L415.70 301.83 L417.20 301.60 L418.70 301.37 L420.20 301.15 L421.70 300.94 L423.20 300.73 L424.70 300.53 L426.20 300.33 L427.70 300.15 L429.20 299.98 L430.70 299.82 L432.20 299.67 L433.70 299.53 L435.20 299.41 L436.70 299.29 L438.20 299.18 L439.70 299.06 L441.20 298.95 L442.70 298.85 L444.20 298.74 L445.70 298.64 L447.20 298.55 L448.70 298.46 L450.20 298.37 L451.70 298.30 L453.20 298.22 L454.70 298.16 L456.20 298.11 L457.70 298.06 L459.20 298.02 L460.70 298.00 L462.20 297.97 L463.70 297.96 L465.20 297.95 L466.70 297.95 L468.20 297.95 L469.70 297.96 L471.20 297.97 L472.70 297.99 L474.20 298.02 L475.70 298.05 L477.20 298.09 L478.70 298.13 L480.20 298.18 L481.70 298.24 L483.20 298.30 L484.70 298.37 L486.20 298.44 L487.70 298.53 L489.20 298.64 L490.70 298.75 L492.20 298.88 L493.70 299.02 L495.20 299.17 L496.70 299.33 L498.20 299.49 L499.70 299.65 L501.20 299.82 L502.70 299.99 L504.20 300.16 L505.70 300.33 L507.20 300.50 L508.70 300.66 L510.20 300.82 L511.70 300.98 L513.20 301.13 L514.70 301.29 L516.20 301.44 L517.70 301.60 L519.20 301.76 L520.70 301.93 L522.20 302.09 L523.70 302.27 L525.20 302.44 L526.70 302.63 L528.20 302.82 L529.70 303.01 L531.20 303.22 L532.70 303.44 L534.20 303.66 L535.70 303.90 L537.20 304.16 L538.70 304.45 L540.20 304.76 L541.70 305.10 L543.20 305.45 L544.70 305.82 L546.20 306.21 L547.70 306.61 L549.20 307.02 L550.70 307.44 L552.20 307.87 L553.70 308.29 L555.20 308.72 L556.70 309.15 L558.20 309.57 L559.70 309.99 L561.20 310.40 L562.70 310.83 L564.20 311.26 L565.70 311.70 L567.20 312.15 L568.70 312.61 L570.20 313.09 L571.70 313.57 L573.20 314.07 L574.70 314.59 L576.20 315.13 L577.70 315.69 L579.20 316.26 L580.70 316.83 L582.20 317.40 L583.70 317.96 L585.20 318.50 L586.70 319.03 L588.20 319.55 L589.70 320.06 L591.20 320.57 L592.70 321.08 L594.20 321.59 L595.70 322.10 L597.20 322.62 L598.70 323.16 L600.20 323.71 L601.70 324.26 L603.20 324.77 L604.70 325.27 L606.20 325.76 L607.70 326.24 L609.20 326.71 L610.70 327.17 L612.20 327.63 L613.70 328.07 L615.20 328.50 L616.70 328.94 L618.20 329.37 L619.70 329.80 L621.20 330.21 L622.70 330.61 L624.20 330.98 L625.70 331.33 L627.20 331.65 L628.70 331.95 L630.20 332.24 L631.70 332.52 L633.20 332.79 L634.70 333.04 L636.20 333.27 L637.70 333.48 L639.20 333.68 L640.70 333.86 L642.20 334.04 L643.70 334.22 L645.20 334.38 L646.70 334.53 L648.20 334.66 L649.70 334.78 L651.20 334.88 L652.70 334.98 L654.20 335.08 L655.70 335.17 L657.20 335.26 L658.70 335.34 L660.20 335.42 L661.70 335.49 L663.20 335.55 L664.70 335.59 L666.20 335.63 L667.70 335.67 L669.20 335.71 L670.70 335.74 L672.20 335.78 L673.70 335.81 L675.20 335.85 L676.70 335.88 L678.20 335.91 L679.70 335.93 L681.20 335.96 L682.70 335.98 L684.20 335.99 L685.70 336.01 L687.20 336.02 L688.70 336.03 L690.20 336.04 L691.70 336.06 L693.20 336.07 L694.70 336.08 L696.20 336.09 L697.70 336.09 L699.20 336.10 L700.70 336.10 L702.20 336.10 L703.70 336.11 L705.20 336.11 L706.70 336.11 L708.20 336.11 L709.70 336.12 L711.20 336.12 L712.70 336.12 L714.20 336.12 L715.70 336.13 L717.20 336.13 L718.70 336.13 L720.20 336.13 L721.70 336.13 L723.20 336.13 L724.70 336.14 L726.20 336.14 L727.70 336.14 L729.20 336.14 L730.70 336.14 L732.20 336.14 L733.70 336.14 L735.20 336.14 L736.70 336.14 L738.20 336.15 L739.70 336.15 L741.20 336.15 L742.70 336.15 L744.20 336.15 L745.70 336.15 L747.20 336.15 L748.70 336.15 L750.20 336.15 L751.70 336.15 L753.20 336.15 L754.70 336.15 L756.20 336.15 L757.70 336.15 L759.20 336.14 L760.70 336.14 L762.20 336.14 L763.70 336.14 L765.20 336.14 L766.70 336.14 L768.20 336.14 L769.70 336.13 L771.20 336.13 L772.70 336.13 L774.20 336.13 L775.70 336.13 L777.20 336.12 L778.70 336.12 L780.20 336.12 L781.70 336.11 L783.20 336.11 L784.70 336.11 L786.20 336.10 L787.70 336.10 L787.90 336.10" stroke="#0000ff" stroke-dasharray="3.125 3.125"/>
<path d="M697 336.1 H787.9" stroke="#0000ff"/>
<path d="M118.40 200.83 L119.90 200.87 L121.40 200.91 L122.90 200.95 L124.40 200.99 L125.90 201.03 L127.40 201.06 L128.90 201.10 L130.40 201.14 L131.90 201.18 L133.40 201.22 L134.90 201.26 L136.40 201.29 L137.90 201.33 L139.40 201.37 L140.90 201.41 L142.40 201.45 L143.90 201.48 L145.40 201.52 L146.90 201.56 L148.40 201.60 L149.90 201.63 L151.40 201.67 L152.90 201.71 L154.40 201.75 L155.90 201.78 L157.40 201.82 L158.90 201.86 L160.40 201.90 L161.90 201.93 L163.40 201.97 L164.90 202.01 L166.40 202.04 L167.90 202.08 L169.40 202.12 L170.90 202.15 L172.40 202.19 L173.90 202.23 L175.40 202.26 L176.90 202.30 L178.40 202.34 L179.90 202.37 L181.40 202.41 L182.90 202.45 L184.40 202.48 L185.90 202.52 L187.40 202.56 L188.90 202.59 L190.40 202.63 L191.90 202.66 L193.40 202.70 L194.90 202.74 L196.40 202.77 L197.90 202.81 L199.40 202.84 L200.90 202.88 L202.40 202.91 L203.90 202.95 L205.40 202.99 L206.90 203.02 L208.40 203.06 L209.90 203.09 L211.40 203.13 L212.90 203.16 L214.40 203.20 L215.90 203.23 L217.40 203.26 L218.90 203.29 L220.40 203.33 L221.90 203.36 L223.40 203.39 L224.90 203.42 L226.40 203.45 L227.90 203.48 L229.40 203.51 L230.90 203.54 L232.40 203.57 L233.90 203.60 L235.40 203.63 L236.90 203.66 L238.40 203.69 L239.90 203.72 L241.40 203.75 L242.90 203.79 L244.40 203.82 L245.90 203.85 L247.40 203.88 L248.90 203.92 L250.40 203.95 L251.90 203.99 L253.40 204.02 L254.90 204.06 L256.40 204.10 L257.90 204.13 L259.40 204.17 L260.90 204.21 L262.40 204.26 L263.90 204.30 L265.40 204.34 L266.90 204.39 L268.40 204.44 L269.90 204.48 L271.40 204.53 L272.90 204.59 L274.40 204.64 L275.90 204.69 L277.40 204.75 L278.90 204.80 L280.40 204.86 L281.90 204.91 L283.40 204.97 L284.90 205.03 L286.40 205.09 L287.90 205.15 L289.40 205.21 L290.90 205.28 L292.40 205.34 L293.90 205.40 L295.40 205.46 L296.90 205.53 L298.40 205.59 L299.90 205.66 L301.40 205.72 L302.90 205.79 L304.40 205.85 L305.90 205.92 L307.40 205.99 L308.90 206.05 L310.40 206.12 L311.90 206.19 L313.40 206.26 L314.90 206.34 L316.40 206.42 L317.90 206.50 L319.40 206.58 L320.90 206.66 L322.40 206.75 L323.90 206.83 L325.40 206.91 L326.90 207.00 L328.40 207.08 L329.90 207.16 L331.40 207.23 L332.90 207.30 L334.40 207.37 L335.90 207.44 L337.40 207.50 L338.90 207.57 L340.40 207.63 L341.90 207.69 L343.40 207.75 L344.90 207.81 L346.40 207.87 L347.90 207.93 L349.40 207.98 L350.90 208.04 L352.40 208.09 L353.90 208.14 L355.40 208.18 L356.90 208.23 L358.40 208.27 L359.90 208.31 L361.40 208.34 L362.90 208.38 L364.40 208.40 L365.90 208.43 L367.40 208.45 L368.90 208.47 L370.40 208.49 L371.90 208.50 L373.40 208.50 L374.90 208.50 L376.40 208.48 L377.90 208.45 L379.40 208.41 L380.90 208.36 L382.40 208.30 L383.90 208.23 L385.40 208.16 L386.90 208.08 L388.40 207.99 L389.90 207.89 L391.40 207.79 L392.90 207.69 L394.40 207.58 L395.90 207.47 L397.40 207.35 L398.90 207.24 L400.40 207.12 L401.90 207.00 L403.40 206.88 L404.90 206.76 L406.40 206.64 L407.90 206.52 L409.40 206.38 L410.90 206.24 L412.40 206.09 L413.90 205.93 L415.40 205.76 L416.90 205.59 L418.40 205.41 L419.90 205.23 L421.40 205.04 L422.90 204.85 L424.40 204.66 L425.90 204.46 L427.40 204.27 L428.90 204.07 L430.40 203.87 L431.90 203.67 L433.40 203.48 L434.90 203.28 L436.40 203.07 L437.90 202.84 L439.40 202.61 L440.90 202.37 L442.40 202.14 L443.90 201.91 L445.40 201.70 L446.90 201.51 L448.40 201.33 L449.90 201.17 L451.40 201.01 L452.90 200.86 L454.40 200.71 L455.90 200.57 L457.40 200.43 L458.90 200.29 L460.40 200.15 L461.90 200.02 L463.40 199.89 L464.90 199.76 L466.40 199.63 L467.90 199.51 L469.40 199.38 L470.90 199.26 L472.40 199.13 L473.90 199.01 L475.40 198.88 L476.90 198.75 L478.40 198.63 L479.90 198.50 L481.40 198.36 L482.90 198.23 L484.40 198.09 L485.90 197.95 L487.40 197.81 L488.90 197.67 L490.40 197.54 L491.90 197.40 L493.40 197.26 L494.90 197.12 L496.40 196.98 L497.90 196.83 L499.40 196.69 L500.90 196.55 L502.40 196.40 L503.90 196.25 L505.40 196.09 L506.90 195.94 L508.40 195.78 L509.90 195.61 L511.40 195.44 L512.90 195.25 L514.40 195.06 L515.90 194.85 L517.40 194.63 L518.90 194.40 L520.40 194.17 L521.90 193.92 L523.40 193.66 L524.90 193.39 L526.40 193.11 L527.90 192.82 L529.40 192.52 L530.90 192.21 L532.40 191.88 L533.90 191.52 L535.40 191.14 L536.90 190.75 L538.40 190.33 L539.90 189.90 L541.40 189.45 L542.90 188.99 L544.40 188.52 L545.90 188.04 L547.40 187.56 L548.90 187.07 L550.40 186.58 L551.90 186.08 L553.40 185.59 L554.90 185.10 L556.40 184.61 L557.90 184.11 L559.40 183.60 L560.90 183.08 L562.40 182.56 L563.90 182.03 L565.40 181.49 L566.90 180.95 L568.40 180.40 L569.90 179.84 L571.40 179.28 L572.90 178.72 L574.40 178.15 L575.90 177.58 L577.40 177.00 L578.90 176.42 L580.40 175.84 L581.90 175.25 L583.40 174.65 L584.90 174.04 L586.40 173.41 L587.90 172.78 L589.40 172.15 L590.90 171.51 L592.40 170.86 L593.90 170.22 L595.40 169.58 L596.90 168.93 L598.40 168.30 L599.90 167.66 L601.40 167.04 L602.90 166.42 L604.40 165.82 L605.90 165.22 L607.40 164.63 L608.90 164.03 L610.40 163.43 L611.90 162.85 L613.40 162.28 L614.90 161.74 L616.40 161.23 L617.90 160.75 L619.40 160.31 L620.90 159.88 L622.40 159.46 L623.90 159.06 L625.40 158.67 L626.90 158.30 L628.40 157.95 L629.90 157.61 L631.40 157.30 L632.90 157.00 L634.40 156.73 L635.90 156.47 L637.40 156.22 L638.90 155.99 L640.40 155.77 L641.90 155.58 L643.40 155.41 L644.90 155.24 L646.40 155.07 L647.90 154.90 L649.40 154.74 L650.90 154.60 L652.40 154.47 L653.90 154.37 L655.40 154.29 L656.90 154.22 L658.40 154.16 L659.90 154.09 L661.40 154.03 L662.90 153.97 L664.40 153.91 L665.90 153.85 L667.40 153.80 L668.90 153.75 L670.40 153.70 L671.90 153.66 L673.40 153.62 L674.90 153.58 L676.40 153.55 L677.90 153.53 L679.40 153.51 L680.90 153.50 L682.40 153.49 L683.90 153.48 L685.40 153.46 L686.90 153.45 L688.40 153.44 L689.90 153.43 L691.40 153.42 L692.90 153.41 L694.40 153.40 L695.90 153.39 L697.40 153.38 L698.90 153.36 L700.40 153.35 L701.90 153.34 L703.40 153.33 L704.90 153.32 L706.40 153.31 L707.90 153.30 L709.40 153.29 L710.90 153.29 L712.40 153.28 L713.90 153.27 L715.40 153.26 L716.90 153.25 L718.40 153.25 L719.90 153.24 L721.40 153.23 L722.90 153.23 L724.40 153.22 L725.90 153.22 L727.40 153.21 L728.90 153.21 L730.40 153.21 L731.90 153.20 L733.40 153.20 L734.90 153.20 L736.40 153.20 L737.90 153.20 L739.40 153.20 L740.90 153.19 L742.40 153.19 L743.90 153.19 L745.40 153.19 L746.90 153.19 L748.40 153.19 L749.90 153.19 L751.40 153.18 L752.90 153.18 L754.40 153.18 L755.90 153.18 L757.40 153.18 L758.90 153.18 L760.40 153.18 L761.90 153.18 L763.40 153.18 L764.90 153.18 L766.40 153.18 L767.90 153.18 L769.40 153.18 L770.90 153.18 L772.40 153.18 L773.90 153.18 L775.40 153.18 L776.90 153.18 L778.40 153.18 L779.90 153.19 L781.40 153.19 L782.90 153.19 L784.40 153.19 L785.90 153.19 L787.30 153.20" stroke="#ff0000" stroke-linecap="round"/>
<path d="M118.40 261.90 L119.90 261.90 L121.40 261.90 L122.90 261.90 L124.40 261.90 L125.90 261.90 L127.40 261.90 L128.90 261.90 L130.40 261.90 L131.90 261.89 L133.40 261.89 L134.90 261.89 L136.40 261.89 L137.90 261.88 L139.40 261.88 L140.90 261.88 L142.40 261.87 L143.90 261.87 L145.40 261.87 L146.90 261.86 L148.40 261.86 L149.90 261.86 L151.40 261.85 L152.90 261.85 L154.40 261.84 L155.90 261.84 L157.40 261.84 L158.90 261.83 L160.40 261.83 L161.90 261.82 L163.40 261.82 L164.90 261.81 L166.40 261.81 L167.90 261.81 L169.40 261.80 L170.90 261.80 L172.40 261.79 L173.90 261.79 L175.40 261.78 L176.90 261.78 L178.40 261.77 L179.90 261.76 L181.40 261.75 L182.90 261.74 L184.40 261.73 L185.90 261.72 L187.40 261.71 L188.90 261.70 L190.40 261.69 L191.90 261.68 L193.40 261.67 L194.90 261.65 L196.40 261.64 L197.90 261.63 L199.40 261.61 L200.90 261.60 L202.40 261.58 L203.90 261.57 L205.40 261.55 L206.90 261.53 L208.40 261.52 L209.90 261.50 L211.40 261.48 L212.90 261.46 L214.40 261.42 L215.90 261.39 L217.40 261.35 L218.90 261.30 L220.40 261.25 L221.90 261.20 L223.40 261.15 L224.90 261.09 L226.40 261.03 L227.90 260.97 L229.40 260.91 L230.90 260.86 L232.40 260.80 L233.90 260.74 L235.40 260.69 L236.90 260.63 L238.40 260.57 L239.90 260.51 L241.40 260.45 L242.90 260.38 L244.40 260.32 L245.90 260.25 L247.40 260.18 L248.90 260.11 L250.40 260.03 L251.90 259.95 L253.40 259.88 L254.90 259.79 L256.40 259.71 L257.90 259.62 L259.40 259.54 L260.90 259.44 L262.40 259.34 L263.90 259.23 L265.40 259.12 L266.90 258.99 L268.40 258.86 L269.90 258.73 L271.40 258.59 L272.90 258.44 L274.40 258.29 L275.90 258.14 L277.40 257.99 L278.90 257.83 L280.40 257.68 L281.90 257.52 L283.40 257.36 L284.90 257.21 L286.40 257.06 L287.90 256.90 L289.40 256.73 L290.90 256.57 L292.40 256.40 L293.90 256.22 L295.40 256.04 L296.90 255.86 L298.40 255.67 L299.90 255.47 L301.40 255.27 L302.90 255.07 L304.40 254.85 L305.90 254.63 L307.40 254.41 L308.90 254.18 L310.40 253.93 L311.90 253.67 L313.40 253.39 L314.90 253.08 L316.40 252.76 L317.90 252.41 L319.40 252.06 L320.90 251.69 L322.40 251.31 L323.90 250.92 L325.40 250.52 L326.90 250.12 L328.40 249.73 L329.90 249.33 L331.40 248.92 L332.90 248.51 L334.40 248.08 L335.90 247.64 L337.40 247.19 L338.90 246.73 L340.40 246.27 L341.90 245.81 L343.40 245.34 L344.90 244.87 L346.40 244.41 L347.90 243.95 L349.40 243.49 L350.90 243.04 L352.40 242.60 L353.90 242.17 L355.40 241.74 L356.90 241.33 L358.40 240.92 L359.90 240.51 L361.40 240.11 L362.90 239.71 L364.40 239.31 L365.90 238.92 L367.40 238.53 L368.90 238.14 L370.40 237.75 L371.90 237.36 L373.40 236.98 L374.90 236.60 L376.40 236.22 L377.90 235.85 L379.40 235.47 L380.90 235.10 L382.40 234.74 L383.90 234.38 L385.40 234.02 L386.90 233.67 L388.40 233.32 L389.90 232.97 L391.40 232.61 L392.90 232.25 L394.40 231.88 L395.90 231.50 L397.40 231.11 L398.90 230.72 L400.40 230.33 L401.90 229.95 L403.40 229.57 L404.90 229.19 L406.40 228.83 L407.90 228.47 L409.40 228.10 L410.90 227.74 L412.40 227.38 L413.90 227.04 L415.40 226.71 L416.90 226.39 L418.40 226.10 L419.90 225.82 L421.40 225.54 L422.90 225.28 L424.40 225.01 L425.90 224.76 L427.40 224.52 L428.90 224.29 L430.40 224.07 L431.90 223.86 L433.40 223.67 L434.90 223.49 L436.40 223.32 L437.90 223.15 L439.40 222.99 L440.90 222.83 L442.40 222.68 L443.90 222.53 L445.40 222.38 L446.90 222.24 L448.40 222.10 L449.90 221.97 L451.40 221.84 L452.90 221.72 L454.40 221.59 L455.90 221.46 L457.40 221.33 L458.90 221.21 L460.40 221.09 L461.90 220.98 L463.40 220.89 L464.90 220.83 L466.40 220.78 L467.90 220.74 L469.40 220.70 L470.90 220.66 L472.40 220.62 L473.90 220.58 L475.40 220.55 L476.90 220.52 L478.40 220.48 L479.90 220.45 L481.40 220.43 L482.90 220.40 L484.40 220.38 L485.90 220.36 L487.40 220.34 L488.90 220.33 L490.40 220.31 L491.90 220.31 L493.40 220.30 L494.90 220.30 L496.40 220.30 L497.90 220.30 L499.40 220.30 L500.90 220.30 L502.40 220.30 L503.90 220.30 L505.40 220.30 L506.90 220.30 L508.40 220.30 L509.90 220.30 L511.40 220.30 L512.90 220.29 L514.40 220.29 L515.90 220.29 L517.40 220.28 L518.90 220.28 L520.40 220.27 L521.90 220.26 L523.40 220.26 L524.90 220.25 L526.40 220.24 L527.90 220.24 L529.40 220.23 L530.90 220.22 L532.40 220.21 L533.90 220.21 L535.40 220.20 L536.90 220.19 L538.40 220.17 L539.90 220.15 L541.40 220.12 L542.90 220.09 L544.40 220.06 L545.90 220.02 L547.40 219.98 L548.90 219.94 L550.40 219.90 L551.90 219.85 L553.40 219.81 L554.90 219.76 L556.40 219.72 L557.90 219.67 L559.40 219.62 L560.90 219.57 L562.40 219.52 L563.90 219.46 L565.40 219.40 L566.90 219.33 L568.40 219.25 L569.90 219.17 L571.40 219.08 L572.90 219.00 L574.40 218.90 L575.90 218.81 L577.40 218.72 L578.90 218.62 L580.40 218.52 L581.90 218.42 L583.40 218.32 L584.90 218.22 L586.40 218.12 L587.90 218.01 L589.40 217.89 L590.90 217.76 L592.40 217.63 L593.90 217.49 L595.40 217.35 L596.90 217.19 L598.40 217.03 L599.90 216.87 L601.40 216.70 L602.90 216.53 L604.40 216.35 L605.90 216.16 L607.40 215.97 L608.90 215.78 L610.40 215.59 L611.90 215.37 L613.40 215.11 L614.90 214.82 L616.40 214.50 L617.90 214.16 L619.40 213.81 L620.90 213.46 L622.40 213.10 L623.90 212.72 L625.40 212.31 L626.90 211.85 L628.40 211.36 L629.90 210.84 L631.40 210.25 L632.90 209.58 L634.40 208.83 L635.90 208.02 L637.40 207.14 L638.90 206.13 L640.40 205.02 L641.90 203.85 L643.40 202.65 L644.90 201.36 L646.40 199.96 L647.90 198.46 L649.40 196.84 L650.90 195.00 L652.40 192.99 L653.90 190.86 L655.40 188.71 L656.90 186.51 L658.40 184.21 L659.90 181.79 L661.40 179.25 L662.90 176.53 L664.40 173.56 L665.90 170.33 L667.40 166.83 L668.90 162.85 L670.40 158.17 L671.90 153.63 L673.40 149.30 L674.90 145.29 L676.40 141.87 L677.90 138.75 L679.40 135.97 L680.90 133.61 L682.40 131.43 L683.90 129.49 L685.40 127.98 L686.90 126.80 L688.40 125.75 L689.90 124.95 L691.40 124.47 L692.90 124.05 L694.40 123.73 L695.90 123.59 L697.40 123.52 L698.90 123.44 L700.40 123.38 L701.90 123.32 L703.40 123.28 L704.90 123.25 L706.40 123.25 L707.90 123.25 L709.40 123.25 L710.90 123.25 L712.40 123.25 L713.90 123.25 L715.40 123.25 L716.90 123.25 L718.40 123.25 L719.90 123.25 L721.40 123.25 L722.90 123.25 L724.40 123.25 L725.90 123.25 L727.40 123.25 L728.90 123.25 L730.40 123.25 L731.90 123.25 L733.40 123.25 L734.90 123.25 L736.40 123.25 L737.90 123.25 L739.40 123.25 L740.90 123.25 L742.40 123.25 L743.90 123.25 L745.40 123.25 L746.90 123.25 L748.40 123.25 L749.90 123.25 L751.40 123.25 L752.90 123.25 L754.40 123.25 L755.90 123.25 L757.40 123.25 L758.90 123.25 L760.40 123.25 L761.90 123.25 L763.40 123.25 L764.90 123.25 L766.40 123.25 L767.90 123.25 L769.40 123.25 L770.90 123.25 L772.40 123.25 L773.90 123.25 L775.40 123.25 L776.90 123.25 L778.40 123.25 L779.90 123.25 L781.40 123.25 L782.90 123.25 L784.40 123.25 L785.90 123.25 L787.30 123.25" stroke="#ff0000" stroke-linecap="round"/>
<path d="M118.40 263.61 L119.90 263.61 L121.40 263.62 L122.90 263.63 L124.40 263.63 L125.90 263.64 L127.40 263.64 L128.90 263.65 L130.40 263.65 L131.90 263.66 L133.40 263.66 L134.90 263.66 L136.40 263.66 L137.90 263.66 L139.40 263.67 L140.90 263.67 L142.40 263.67 L143.90 263.67 L145.40 263.66 L146.90 263.66 L148.40 263.66 L149.90 263.66 L151.40 263.65 L152.90 263.65 L154.40 263.65 L155.90 263.64 L157.40 263.64 L158.90 263.63 L160.40 263.63 L161.90 263.62 L163.40 263.61 L164.90 263.61 L166.40 263.60 L167.90 263.59 L169.40 263.58 L170.90 263.57 L172.40 263.56 L173.90 263.55 L175.40 263.54 L176.90 263.53 L178.40 263.52 L179.90 263.51 L181.40 263.50 L182.90 263.49 L184.40 263.47 L185.90 263.46 L187.40 263.45 L188.90 263.43 L190.40 263.42 L191.90 263.40 L193.40 263.39 L194.90 263.37 L196.40 263.36 L197.90 263.34 L199.40 263.33 L200.90 263.31 L202.40 263.29 L203.90 263.27 L205.40 263.26 L206.90 263.24 L208.40 263.22 L209.90 263.20 L211.40 263.18 L212.90 263.16 L214.40 263.14 L215.90 263.11 L217.40 263.08 L218.90 263.05 L220.40 263.02 L221.90 262.99 L223.40 262.96 L224.90 262.92 L226.40 262.88 L227.90 262.85 L229.40 262.81 L230.90 262.76 L232.40 262.72 L233.90 262.68 L235.40 262.63 L236.90 262.59 L238.40 262.54 L239.90 262.49 L241.40 262.45 L242.90 262.40 L244.40 262.35 L245.90 262.30 L247.40 262.25 L248.90 262.19 L250.40 262.14 L251.90 262.09 L253.40 262.04 L254.90 261.98 L256.40 261.93 L257.90 261.88 L259.40 261.82 L260.90 261.77 L262.40 261.71 L263.90 261.65 L265.40 261.58 L266.90 261.52 L268.40 261.45 L269.90 261.38 L271.40 261.30 L272.90 261.23 L274.40 261.15 L275.90 261.08 L277.40 261.00 L278.90 260.92 L280.40 260.84 L281.90 260.76 L283.40 260.68 L284.90 260.61 L286.40 260.53 L287.90 260.44 L289.40 260.36 L290.90 260.27 L292.40 260.18 L293.90 260.08 L295.40 259.99 L296.90 259.90 L298.40 259.81 L299.90 259.72 L301.40 259.63 L302.90 259.54 L304.40 259.46 L305.90 259.38 L307.40 259.31 L308.90 259.25 L310.40 259.18 L311.90 259.13 L313.40 259.07 L314.90 259.02 L316.40 258.97 L317.90 258.93 L319.40 258.89 L320.90 258.85 L322.40 258.81 L323.90 258.78 L325.40 258.76 L326.90 258.74 L328.40 258.72 L329.90 258.71 L331.40 258.70 L332.90 258.70 L334.40 258.70 L335.90 258.71 L337.40 258.72 L338.90 258.75 L340.40 258.78 L341.90 258.82 L343.40 258.87 L344.90 258.93 L346.40 258.99 L347.90 259.05 L349.40 259.12 L350.90 259.19 L352.40 259.27 L353.90 259.35 L355.40 259.43 L356.90 259.52 L358.40 259.60 L359.90 259.69 L361.40 259.78 L362.90 259.87 L364.40 259.98 L365.90 260.09 L367.40 260.20 L368.90 260.32 L370.40 260.45 L371.90 260.58 L373.40 260.71 L374.90 260.84 L376.40 260.98 L377.90 261.12 L379.40 261.26 L380.90 261.40 L382.40 261.54 L383.90 261.68 L385.40 261.82 L386.90 261.96 L388.40 262.10 L389.90 262.26 L391.40 262.41 L392.90 262.57 L394.40 262.72 L395.90 262.88 L397.40 263.04 L398.90 263.20 L400.40 263.36 L401.90 263.52 L403.40 263.67 L404.90 263.82 L406.40 263.96 L407.90 264.10 L409.40 264.23 L410.90 264.35 L412.40 264.47 L413.90 264.59 L415.40 264.70 L416.90 264.81 L418.40 264.92 L419.90 265.03 L421.40 265.14 L422.90 265.24 L424.40 265.34 L425.90 265.44 L427.40 265.54 L428.90 265.63 L430.40 265.72 L431.90 265.81 L433.40 265.89 L434.90 265.98 L436.40 266.06 L437.90 266.14 L439.40 266.22 L440.90 266.30 L442.40 266.38 L443.90 266.46 L445.40 266.54 L446.90 266.62 L448.40 266.69 L449.90 266.76 L451.40 266.83 L452.90 266.90 L454.40 266.97 L455.90 267.03 L457.40 267.09 L458.90 267.15 L460.40 267.20 L461.90 267.25 L463.40 267.30 L464.90 267.35 L466.40 267.40 L467.90 267.45 L469.40 267.50 L470.90 267.55 L472.40 267.59 L473.90 267.64 L475.40 267.68 L476.90 267.72 L478.40 267.76 L479.90 267.79 L481.40 267.83 L482.90 267.86 L484.40 267.88 L485.90 267.91 L487.40 267.93 L488.90 267.96 L490.40 267.98 L491.90 268.00 L493.40 268.03 L494.90 268.05 L496.40 268.07 L497.90 268.09 L499.40 268.11 L500.90 268.13 L502.40 268.15 L503.90 268.17 L505.40 268.19 L506.90 268.21 L508.40 268.22 L509.90 268.24 L511.40 268.25 L512.90 268.26 L514.40 268.28 L515.90 268.29 L517.40 268.30 L518.90 268.30 L520.40 268.31 L521.90 268.32 L523.40 268.32 L524.90 268.32 L526.40 268.32 L527.90 268.32 L529.40 268.32 L530.90 268.32 L532.40 268.31 L533.90 268.31 L535.40 268.30 L536.90 268.29 L538.40 268.27 L539.90 268.26 L541.40 268.24 L542.90 268.21 L544.40 268.18 L545.90 268.15 L547.40 268.12 L548.90 268.09 L550.40 268.05 L551.90 268.01 L553.40 267.98 L554.90 267.94 L556.40 267.90 L557.90 267.86 L559.40 267.82 L560.90 267.78 L562.40 267.73 L563.90 267.68 L565.40 267.63 L566.90 267.56 L568.40 267.50 L569.90 267.43 L571.40 267.36 L572.90 267.28 L574.40 267.20 L575.90 267.12 L577.40 267.04 L578.90 266.95 L580.40 266.87 L581.90 266.79 L583.40 266.70 L584.90 266.62 L586.40 266.53 L587.90 266.44 L589.40 266.34 L590.90 266.23 L592.40 266.12 L593.90 266.00 L595.40 265.88 L596.90 265.75 L598.40 265.62 L599.90 265.48 L601.40 265.33 L602.90 265.18 L604.40 265.03 L605.90 264.88 L607.40 264.72 L608.90 264.55 L610.40 264.39 L611.90 264.20 L613.40 263.96 L614.90 263.69 L616.40 263.39 L617.90 263.06 L619.40 262.72 L620.90 262.36 L622.40 262.00 L623.90 261.62 L625.40 261.19 L626.90 260.73 L628.40 260.22 L629.90 259.69 L631.40 259.14 L632.90 258.58 L634.40 258.01 L635.90 257.42 L637.40 256.78 L638.90 256.06 L640.40 255.27 L641.90 254.42 L643.40 253.41 L644.90 252.24 L646.40 250.95 L647.90 249.60 L649.40 248.15 L650.90 246.53 L652.40 244.74 L653.90 242.80 L655.40 240.65 L656.90 238.18 L658.40 235.49 L659.90 232.71 L661.40 229.91 L662.90 226.98 L664.40 223.94 L665.90 220.81 L667.40 217.60 L668.90 214.21 L670.40 210.73 L671.90 207.24 L673.40 203.67 L674.90 199.88 L676.40 195.77 L677.90 191.84 L679.40 188.26 L680.90 184.85 L682.40 181.84 L683.90 179.34 L685.40 177.08 L686.90 175.14 L688.40 173.63 L689.90 172.31 L691.40 171.16 L692.90 170.37 L694.40 169.88 L695.90 169.43 L697.40 169.07 L698.90 168.84 L700.40 168.75 L701.90 168.67 L703.40 168.59 L704.90 168.52 L706.40 168.45 L707.90 168.39 L709.40 168.34 L710.90 168.31 L712.40 168.30 L713.90 168.29 L715.40 168.28 L716.90 168.27 L718.40 168.26 L719.90 168.25 L721.40 168.25 L722.90 168.24 L724.40 168.23 L725.90 168.22 L727.40 168.22 L728.90 168.21 L730.40 168.21 L731.90 168.20 L733.40 168.20 L734.90 168.20 L736.40 168.20 L737.90 168.20 L739.40 168.20 L740.90 168.20 L742.40 168.20 L743.90 168.19 L745.40 168.19 L746.90 168.19 L748.40 168.19 L749.90 168.19 L751.40 168.19 L752.90 168.19 L754.40 168.19 L755.90 168.19 L757.40 168.19 L758.90 168.19 L760.40 168.19 L761.90 168.18 L763.40 168.18 L764.90 168.18 L766.40 168.18 L767.90 168.18 L769.40 168.18 L770.90 168.18 L772.40 168.18 L773.90 168.19 L775.40 168.19 L776.90 168.19 L778.40 168.19 L779.90 168.19 L781.40 168.19 L782.90 168.19 L784.40 168.19 L785.90 168.20 L787.30 168.20" stroke="#ff0000" stroke-linecap="round"/>
<path d="M118.40 315.40 L119.90 315.41 L121.40 315.42 L122.90 315.42 L124.40 315.42 L125.90 315.43 L127.40 315.43 L128.90 315.43 L130.40 315.43 L131.90 315.43 L133.40 315.43 L134.90 315.43 L136.40 315.43 L137.90 315.43 L139.40 315.43 L140.90 315.43 L142.40 315.42 L143.90 315.42 L145.40 315.42 L146.90 315.41 L148.40 315.41 L149.90 315.40 L151.40 315.40 L152.90 315.39 L154.40 315.38 L155.90 315.38 L157.40 315.37 L158.90 315.36 L160.40 315.36 L161.90 315.35 L163.40 315.34 L164.90 315.33 L166.40 315.32 L167.90 315.32 L169.40 315.31 L170.90 315.30 L172.40 315.29 L173.90 315.28 L175.40 315.27 L176.90 315.26 L178.40 315.25 L179.90 315.24 L181.40 315.23 L182.90 315.22 L184.40 315.21 L185.90 315.19 L187.40 315.18 L188.90 315.16 L190.40 315.14 L191.90 315.12 L193.40 315.10 L194.90 315.07 L196.40 315.04 L197.90 315.01 L199.40 314.98 L200.90 314.94 L202.40 314.90 L203.90 314.87 L205.40 314.83 L206.90 314.79 L208.40 314.75 L209.90 314.71 L211.40 314.66 L212.90 314.61 L214.40 314.56 L215.90 314.50 L217.40 314.43 L218.90 314.36 L220.40 314.28 L221.90 314.20 L223.40 314.12 L224.90 314.03 L226.40 313.94 L227.90 313.85 L229.40 313.76 L230.90 313.67 L232.40 313.58 L233.90 313.49 L235.40 313.39 L236.90 313.30 L238.40 313.20 L239.90 313.10 L241.40 313.00 L242.90 312.89 L244.40 312.78 L245.90 312.66 L247.40 312.55 L248.90 312.42 L250.40 312.30 L251.90 312.17 L253.40 312.04 L254.90 311.91 L256.40 311.77 L257.90 311.64 L259.40 311.49 L260.90 311.35 L262.40 311.20 L263.90 311.04 L265.40 310.88 L266.90 310.70 L268.40 310.53 L269.90 310.34 L271.40 310.15 L272.90 309.95 L274.40 309.75 L275.90 309.55 L277.40 309.34 L278.90 309.13 L280.40 308.92 L281.90 308.70 L283.40 308.49 L284.90 308.27 L286.40 308.05 L287.90 307.83 L289.40 307.60 L290.90 307.36 L292.40 307.11 L293.90 306.86 L295.40 306.60 L296.90 306.34 L298.40 306.07 L299.90 305.79 L301.40 305.51 L302.90 305.22 L304.40 304.92 L305.90 304.62 L307.40 304.30 L308.90 303.95 L310.40 303.59 L311.90 303.22 L313.40 302.83 L314.90 302.43 L316.40 302.03 L317.90 301.63 L319.40 301.22 L320.90 300.81 L322.40 300.38 L323.90 299.95 L325.40 299.51 L326.90 299.06 L328.40 298.59 L329.90 298.12 L331.40 297.63 L332.90 297.13 L334.40 296.61 L335.90 296.08 L337.40 295.53 L338.90 294.95 L340.40 294.36 L341.90 293.75 L343.40 293.12 L344.90 292.47 L346.40 291.81 L347.90 291.13 L349.40 290.44 L350.90 289.74 L352.40 289.02 L353.90 288.29 L355.40 287.56 L356.90 286.81 L358.40 286.06 L359.90 285.30 L361.40 284.53 L362.90 283.73 L364.40 282.92 L365.90 282.08 L367.40 281.22 L368.90 280.35 L370.40 279.46 L371.90 278.55 L373.40 277.63 L374.90 276.70 L376.40 275.76 L377.90 274.81 L379.40 273.85 L380.90 272.89 L382.40 271.92 L383.90 270.95 L385.40 269.97 L386.90 268.98 L388.40 267.96 L389.90 266.92 L391.40 265.86 L392.90 264.77 L394.40 263.67 L395.90 262.56 L397.40 261.43 L398.90 260.28 L400.40 259.09 L401.90 257.88 L403.40 256.65 L404.90 255.42 L406.40 254.18 L407.90 252.94 L409.40 251.72 L410.90 250.52 L412.40 249.31 L413.90 248.08 L415.40 246.86 L416.90 245.64 L418.40 244.45 L419.90 243.30 L421.40 242.19 L422.90 241.13 L424.40 240.13 L425.90 239.16 L427.40 238.22 L428.90 237.31 L430.40 236.42 L431.90 235.54 L433.40 234.68 L434.90 233.83 L436.40 232.97 L437.90 232.12 L439.40 231.33 L440.90 230.62 L442.40 229.96 L443.90 229.31 L445.40 228.68 L446.90 228.08 L448.40 227.50 L449.90 226.96 L451.40 226.44 L452.90 225.96 L454.40 225.51 L455.90 225.06 L457.40 224.63 L458.90 224.21 L460.40 223.81 L461.90 223.43 L463.40 223.08 L464.90 222.76 L466.40 222.47 L467.90 222.20 L469.40 221.94 L470.90 221.70 L472.40 221.46 L473.90 221.23 L475.40 220.99 L476.90 220.75 L478.40 220.50 L479.90 220.24 L481.40 219.99 L482.90 219.73 L484.40 219.47 L485.90 219.21 L487.40 218.95 L488.90 218.69 L490.40 218.43 L491.90 218.17 L493.40 217.90 L494.90 217.64 L496.40 217.39 L497.90 217.13 L499.40 216.88 L500.90 216.63 L502.40 216.37 L503.90 216.11 L505.40 215.85 L506.90 215.58 L508.40 215.30 L509.90 215.02 L511.40 214.72 L512.90 214.42 L514.40 214.11 L515.90 213.78 L517.40 213.45 L518.90 213.12 L520.40 212.77 L521.90 212.42 L523.40 212.07 L524.90 211.71 L526.40 211.34 L527.90 210.98 L529.40 210.60 L530.90 210.23 L532.40 209.85 L533.90 209.47 L535.40 209.07 L536.90 208.66 L538.40 208.23 L539.90 207.79 L541.40 207.34 L542.90 206.87 L544.40 206.38 L545.90 205.87 L547.40 205.35 L548.90 204.80 L550.40 204.22 L551.90 203.62 L553.40 203.00 L554.90 202.36 L556.40 201.70 L557.90 201.03 L559.40 200.34 L560.90 199.65 L562.40 198.94 L563.90 198.23 L565.40 197.51 L566.90 196.78 L568.40 196.06 L569.90 195.31 L571.40 194.53 L572.90 193.73 L574.40 192.91 L575.90 192.07 L577.40 191.22 L578.90 190.34 L580.40 189.46 L581.90 188.56 L583.40 187.62 L584.90 186.67 L586.40 185.69 L587.90 184.70 L589.40 183.70 L590.90 182.69 L592.40 181.67 L593.90 180.65 L595.40 179.60 L596.90 178.53 L598.40 177.44 L599.90 176.35 L601.40 175.26 L602.90 174.20 L604.40 173.16 L605.90 172.17 L607.40 171.19 L608.90 170.21 L610.40 169.24 L611.90 168.29 L613.40 167.38 L614.90 166.51 L616.40 165.69 L617.90 164.93 L619.40 164.25 L620.90 163.61 L622.40 163.00 L623.90 162.42 L625.40 161.86 L626.90 161.32 L628.40 160.78 L629.90 160.24 L631.40 159.68 L632.90 159.12 L634.40 158.59 L635.90 158.13 L637.40 157.73 L638.90 157.35 L640.40 157.00 L641.90 156.67 L643.40 156.38 L644.90 156.12 L646.40 155.87 L647.90 155.64 L649.40 155.41 L650.90 155.19 L652.40 155.00 L653.90 154.83 L655.40 154.68 L656.90 154.55 L658.40 154.43 L659.90 154.31 L661.40 154.20 L662.90 154.10 L664.40 154.03 L665.90 153.96 L667.40 153.90 L668.90 153.84 L670.40 153.78 L671.90 153.72 L673.40 153.66 L674.90 153.61 L676.40 153.57 L677.90 153.54 L679.40 153.51 L680.90 153.50 L682.40 153.49 L683.90 153.47 L685.40 153.46 L686.90 153.45 L688.40 153.44 L689.90 153.43 L691.40 153.41 L692.90 153.40 L694.40 153.39 L695.90 153.38 L697.40 153.37 L698.90 153.36 L700.40 153.35 L701.90 153.34 L703.40 153.33 L704.90 153.32 L706.40 153.31 L707.90 153.30 L709.40 153.29 L710.90 153.28 L712.40 153.27 L713.90 153.26 L715.40 153.26 L716.90 153.25 L718.40 153.24 L719.90 153.24 L721.40 153.23 L722.90 153.23 L724.40 153.22 L725.90 153.22 L727.40 153.21 L728.90 153.21 L730.40 153.20 L731.90 153.20 L733.40 153.20 L734.90 153.20 L736.40 153.20 L737.90 153.20 L739.40 153.20 L740.90 153.19 L742.40 153.19 L743.90 153.19 L745.40 153.19 L746.90 153.19 L748.40 153.19 L749.90 153.19 L751.40 153.19 L752.90 153.18 L754.40 153.18 L755.90 153.18 L757.40 153.18 L758.90 153.18 L760.40 153.18 L761.90 153.18 L763.40 153.18 L764.90 153.18 L766.40 153.18 L767.90 153.18 L769.40 153.18 L770.90 153.18 L772.40 153.18 L773.90 153.18 L775.40 153.18 L776.90 153.18 L778.40 153.18 L779.90 153.19 L781.40 153.19 L782.90 153.19 L784.40 153.19 L785.90 153.19 L787.30 153.20" stroke="#ff0000" stroke-linecap="round"/>
</g>
<path d="M467.4 69.3 H509.4" stroke="#0000ff" stroke-width="3.1" stroke-dasharray="3.125 3.125" fill="none"/>
<path d="M467.4 107.7 H509.5" stroke="#ff0000" stroke-width="3.1" fill="none"/>
<g font-family="Liberation Sans, sans-serif" font-size="29.17" fill="#000" style="filter:grayscale(1)">
<text x="513.2" y="80.9">Virus 1</text>
<text x="513.2" y="119.0">Virus 2</text>
</g>
</svg>
</body>
</html>
